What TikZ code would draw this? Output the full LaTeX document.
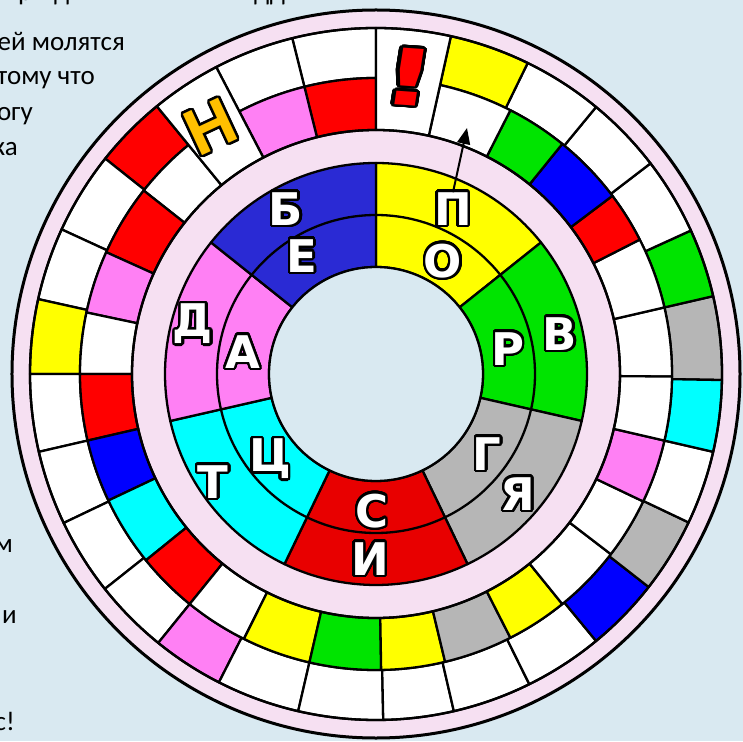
\documentclass[tikz,border=0pt]{standalone}
\usepackage{fontspec}
\usepackage[copies]{contour}
\usetikzlibrary{arrows.meta}
\newfontfamily\notefont{Carlito}
\newfontfamily\ltrfont{DejaVu Sans Bold}
\newfontfamily\markfont{Liberation Sans Bold}
\definecolor{PaperBlue}{HTML}{D9E9F1}
\definecolor{BandPink}{HTML}{F6E0F2}
\definecolor{CellRed}{HTML}{FF0000}
\definecolor{CellBlue}{HTML}{0000FF}
\definecolor{CellGreen}{HTML}{00E400}
\definecolor{CellYellow}{HTML}{FFFF00}
\definecolor{CellGray}{HTML}{B6B6B6}
\definecolor{CellPink}{HTML}{FF80F4}
\definecolor{CellCyan}{HTML}{00FFFF}
\definecolor{SecBlue}{HTML}{2A2AD4}
\definecolor{SecRed}{HTML}{E80000}
\definecolor{MarkOrange}{HTML}{FFC000}
\contourlength{2.4pt}
\contournumber{32}
\newcommand{\ltr}[1]{\contour{black}{#1}}
% one cell of a ring: start angle, end angle, inner radius, outer radius, colour
\newcommand{\ringcell}[5]{\filldraw[fill=#5, cellline] (#1:#3) arc[start angle=#1, end angle=#2, radius=#3] -- (#2:#4) arc[start angle=#2, end angle=#1, radius=#4] -- cycle}
\tikzset{
  cellline/.style={draw=black, line width=2.3pt, line join=round},
  ringline/.style={draw=black, line width=3pt},
  bigletter/.style={text=white, font=\ltrfont\fontsize{45}{45}\selectfont, inner sep=0pt},
  notetext/.style={anchor=base east, font=\notefont\fontsize{27}{30}\selectfont, inner sep=0pt},
  fragtext/.style={anchor=base west, font=\notefont\fontsize{27}{30}\selectfont, inner sep=0pt}
}

\begin{document}
\begin{tikzpicture}[x=1pt,y=1pt]
  \fill[PaperBlue] (-376,-367) rectangle (367,374);
  \useasboundingbox (-376,-367) rectangle (367,374);
  % text around the wheel
  \node[fragtext] (fA) at (-358,373) {р};
  \node[fragtext] (fB) at (-322,373) {д};
  \node[fragtext] (fC) at (-122,373) {дд};
  \node[notetext] (nA) at (-251,323) {ей молятся};
  \node[notetext] (nB) at (-281,289) {тому что};
  \node[notetext] (nC) at (-343,253) {огу};
  \node[notetext] (nD) at (-358,218) {ка};
  \node[notetext] (nE) at (-363,-178) {м};
  \node[notetext] (nF) at (-359,-249) {и};
  \node[notetext] (nG) at (-361,-356) {с!};
  % outer band
  \filldraw[fill=BandPink, ringline] (0,0) circle[radius=364];
  \foreach \a/\b/\c in {-1/13/CellGray, 13/24.5/CellGreen, 24.5/37.5/white, 37.5/50.5/white,
      50.5/64/white, 64/77.5/CellYellow, 90/104/white, 104/117.5/white, 129.3/141.5/CellRed,
      141.5/155.3/white, 155.3/167.5/white, 167.5/180/CellYellow, 180/193/white, 193/205.5/white,
      205.5/218.4/white, 218.4/231/white, 231/243/CellPink, 243/257/white, 257/271.2/white,
      271.2/283/white, 283/296.3/white, 296.3/309.5/white, 309.5/322/CellBlue, 322/334.6/CellGray,
      334.6/347/white, 347/359/CellCyan}
    \ringcell{\a}{\b}{296}{346}{\c};
  \foreach \a/\b/\c in {-0.5/13/white, 13/27/white, 27/37/CellRed, 37/51/CellBlue, 51/63/CellGreen,
      63/77.5/white, 90/104/CellRed, 104/117.5/CellPink, 129.3/141.7/white, 141.7/155.7/CellRed,
      155.7/168/CellPink, 168/180/white, 180/193/CellRed, 193/205.3/CellBlue, 205.3/219/CellCyan,
      219/231/CellRed, 231/243.5/white, 243.5/257/CellYellow, 257/271/CellGreen, 271/283.5/CellYellow,
      283.5/297/CellGray, 297/309/CellYellow, 309/322.5/white, 322.5/334.5/white, 334.5/347/CellPink,
      347/359.5/white}
    \ringcell{\a}{\b}{244}{296}{\c};
  \ringcell{77.5}{90}{244}{346}{white};
  \ringcell{117.5}{129.3}{244}{346}{white};
  \draw[cellline] (0,0) circle[radius=346];
  \draw[cellline] (0,0) circle[radius=244];
  \node[text=CellRed, font=\ltrfont\fontsize{78}{78}\selectfont, xscale=1.5, rotate=-6, inner sep=0pt] (bang) at (33,296) {\ltr{!}};
  \node[text=MarkOrange, font=\markfont\fontsize{66}{66}\selectfont, rotate=25, inner sep=0pt] (markN) at (-165,246) {\ltr{Н}};
  % inner wheel
  \foreach \a/\b/\c in {38.57/90/CellYellow, -12.86/38.57/CellGreen, -64.29/-12.86/CellGray,
      -115.71/-64.29/SecRed, -167.14/-115.71/CellCyan, 141.43/192.86/CellPink, 90/141.43/SecBlue}
    \ringcell{\a}{\b}{107}{211}{\c};
  \draw[cellline] (0,0) circle[radius=159];
  \filldraw[fill=PaperBlue, cellline] (0,0) circle[radius=107];
  \node[bigletter] (lB) at (-90,164) {\ltr{Б}};
  \node[bigletter] (lE) at (-74,117) {\ltr{Е}};
  \node[bigletter] (lP) at (77,164) {\ltr{П}};
  \node[bigletter] (lO) at (67,112) {\ltr{О}};
  \node[bigletter] (lV) at (184,39) {\ltr{В}};
  \node[bigletter] (lR) at (132,24) {\ltr{Р}};
  \node[bigletter] (lYa) at (142,-121) {\ltr{Я}};
  \node[bigletter] (lG) at (111,-81) {\ltr{Г}};
  \node[bigletter] (lI) at (-6,-186) {\ltr{И}};
  \node[bigletter] (lS) at (-4,-138) {\ltr{С}};
  \node[bigletter] (lT) at (-163,-109) {\ltr{Т}};
  \node[bigletter] (lTs) at (-106,-86) {\ltr{Ц}};
  \node[bigletter] (lD) at (-183,49) {\ltr{Д}};
  \node[bigletter] (lA) at (-133,21) {\ltr{А}};
  % pointer
  \coordinate (tip) at (91,246);
  \draw[line width=2pt, -{Triangle[length=16pt,width=13pt]}] (lP.north) -- (tip);
\end{tikzpicture}
\end{document}
